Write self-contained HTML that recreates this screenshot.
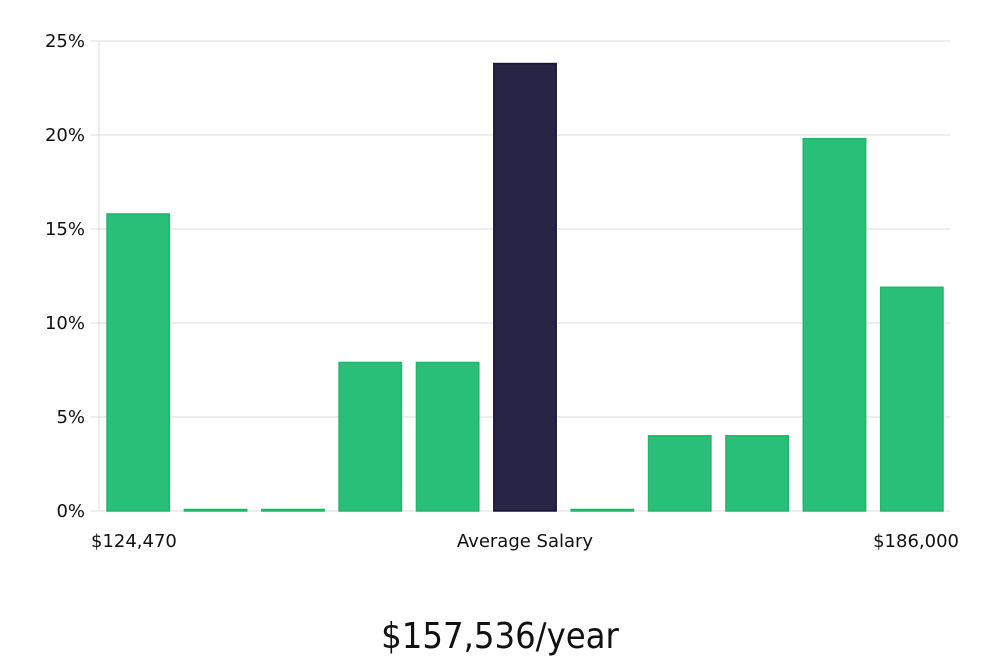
<!DOCTYPE html>
<html><head><meta charset="utf-8"><style>
html,body{margin:0;padding:0;background:#fff;}
body{width:1000px;height:660px;overflow:hidden;font-family:"DejaVu Sans","Liberation Sans",sans-serif;}
svg text{fill:#111;}
</style></head><body>
<svg id="chart" width="1000" height="660" xmlns="http://www.w3.org/2000/svg">
<g id="grid"></g>
<g id="yaxis"></g>
<g id="bars"></g>
<text x="91" y="547" font-size="18">$124,470</text>
<text x="525" y="547" font-size="18" text-anchor="middle">Average Salary</text>
<text x="959" y="547" font-size="18" text-anchor="end">$186,000</text>
<text x="500" y="648" font-size="36" text-anchor="middle" font-weight="300" style="font-family:'DejaVu Sans Condensed','Liberation Sans Narrow',sans-serif">$157,536/year</text>
</svg>
<script>
const categories=["b1","b2","b3","b4","b5","b6","b7","b8","b9","b10","b11"];
const values=[15.8,0,0,7.9,7.9,23.8,0,4,4,19.8,11.9];
const highlightIndex=5;
const yTicks=[0,5,10,15,20,25];
const yTickLabels=["0%","5%","10%","15%","20%","25%"];
const NS="http://www.w3.org/2000/svg";
const x0=99,x1=950,yBase=511,yTop=41,yMax=25;
const y=v=>yBase-(v/yMax)*(yBase-yTop);
const slot=(x1-x0)/categories.length;
const xs=i=>x0+i*slot;
const grid=document.getElementById('grid'),ya=document.getElementById('yaxis'),bars=document.getElementById('bars');
yTicks.forEach((t,i)=>{
 const l=document.createElementNS(NS,'line');
 
 
 l.setAttribute('x1',x0-8);l.setAttribute('x2',x1);l.setAttribute('y1',y(t));l.setAttribute('y2',y(t));
 l.setAttribute('stroke','#dcdcdc');l.setAttribute('stroke-width','1');
 grid.appendChild(l);
 const tx=document.createElementNS(NS,'text');
 
 
 tx.setAttribute('x',85);tx.setAttribute('y',y(t)+6);tx.setAttribute('text-anchor','end');tx.setAttribute('font-size','18');
 tx.textContent=yTickLabels[i];ya.appendChild(tx);
});
const ax=document.createElementNS(NS,'line');


ax.setAttribute('x1',x0);ax.setAttribute('x2',x0);ax.setAttribute('y1',yTop);ax.setAttribute('y2',yBase);ax.setAttribute('stroke','#dcdcdc');
ya.appendChild(ax);
values.forEach((v,i)=>{
 const r=document.createElementNS(NS,'rect');
 
 
 const h=Math.max(yBase-y(v),1.5);
 r.setAttribute('x',xs(i)+8);r.setAttribute('width',slot-15);
 r.setAttribute('y',yBase-h);r.setAttribute('height',h);
 const hl=i===highlightIndex;
 r.setAttribute('fill',hl?'#272445':'#2abf78');
 r.setAttribute('stroke',hl?'#16133a':'#22b56c');r.setAttribute('stroke-width','1.5');
 bars.appendChild(r);
});
</script>
</body></html>
